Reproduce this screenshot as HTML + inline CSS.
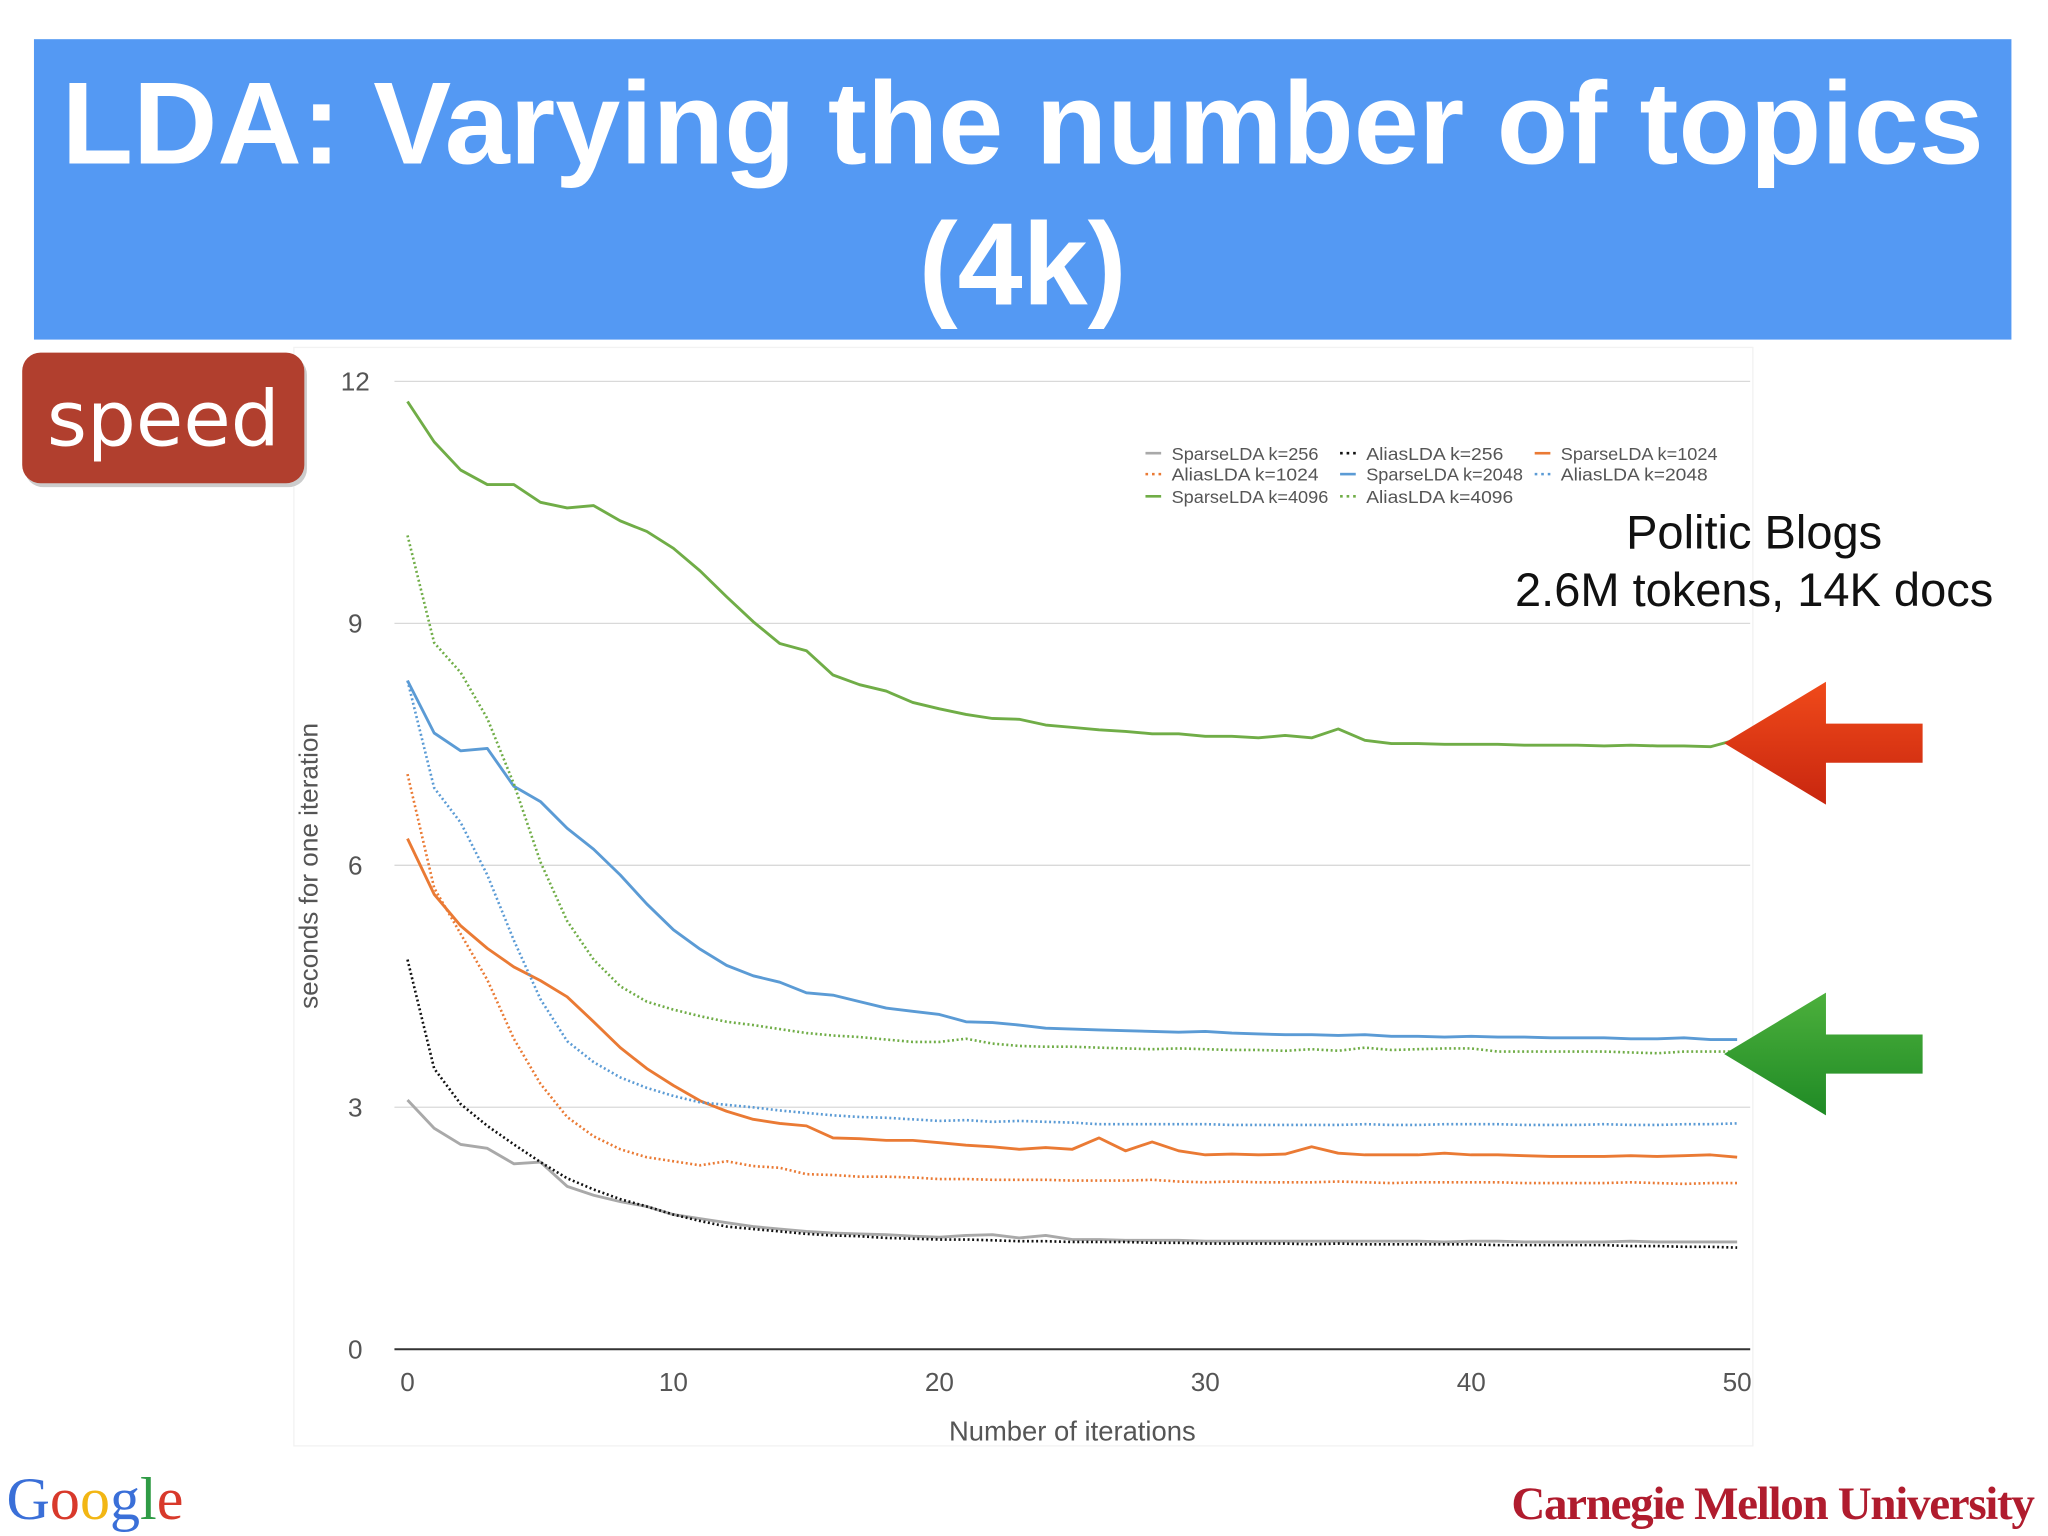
<!DOCTYPE html>
<html><head><meta charset="utf-8"><style>
html,body{margin:0;padding:0;background:#fff;}
svg{display:block;}
</style></head><body>
<svg id="slide" width="2048" height="1536" viewBox="0 0 1568 1176" xmlns="http://www.w3.org/2000/svg" font-family="Liberation Sans, sans-serif">
<rect x="225" y="266" width="1117" height="841" fill="none" stroke="#f2f2f2"/>
<rect x="26" y="30" width="1514" height="230" fill="#5499f3"/>
<text x="783" y="125" text-anchor="middle" font-size="89.5" font-weight="bold" fill="#fff">LDA: Varying the number of topics</text>
<text x="783" y="233" text-anchor="middle" font-size="89.5" font-weight="bold" fill="#fff">(4k)</text>
<rect x="19" y="273" width="216" height="100" rx="14" fill="#ccc"/>
<rect x="17" y="270" width="216" height="100" rx="14" fill="#b13f2e"/>
<text x="125" y="341" text-anchor="middle" font-size="59" fill="#fff" font-family="DejaVu Sans, sans-serif">speed</text>
<g id="grid"></g>
<g id="series"></g>
<g id="axes"></g>
<text transform="translate(243,663) rotate(-90)" text-anchor="middle" font-size="20" fill="#555">seconds for one iteration</text>
<text x="821" y="1103" text-anchor="middle" font-size="21" fill="#555">Number of iterations</text>
<g id="legend" font-size="14" fill="#555"></g>
<text x="1343" y="420" text-anchor="middle" font-size="36" fill="#111">Politic Blogs</text>
<text x="1343" y="464" text-anchor="middle" font-size="36" fill="#111">2.6M tokens, 14K docs</text>
<defs>
<linearGradient id="rg" x1="0" y1="0" x2="0" y2="1"><stop offset="0" stop-color="#f04a1a"/><stop offset="1" stop-color="#c8260f"/></linearGradient>
<linearGradient id="gg" x1="0" y1="0" x2="0" y2="1"><stop offset="0" stop-color="#4cb03c"/><stop offset="1" stop-color="#1f8a25"/></linearGradient>
</defs>
<polygon points="1320,569 1398,522 1398,554 1472,554 1472,584 1398,584 1398,616" fill="url(#rg)"/>
<polygon points="1320,807 1398,760 1398,792 1472,792 1472,822 1398,822 1398,854" fill="url(#gg)"/>
<text x="5" y="1163" font-family="Liberation Serif, serif" font-size="46"><tspan fill="#3a6fd8">G</tspan><tspan fill="#d8392b">o</tspan><tspan fill="#f2b614">o</tspan><tspan fill="#3a6fd8">g</tspan><tspan fill="#2f9b45">l</tspan><tspan fill="#d8392b">e</tspan></text>
<text x="1557" y="1163" text-anchor="end" font-family="Liberation Serif, serif" font-size="36" font-weight="bold" fill="#b01c2e" letter-spacing="-1">Carnegie Mellon University</text>
</svg>
<script>
const xTicks = [0,10,20,30,40,50];
const yTicks = [0,3,6,9,12];
const iterations = [];
for (let i = 0; i <= 50; i++) iterations.push(i);
const sparse256 = [3.09,2.74,2.54,2.49,2.3,2.32,2.02,1.91,1.83,1.77,1.67,1.62,1.57,1.52,1.49,1.46,1.44,1.43,1.42,1.4,1.39,1.41,1.42,1.38,1.41,1.36,1.36,1.35,1.35,1.35,1.34,1.34,1.34,1.34,1.34,1.34,1.34,1.34,1.34,1.33,1.34,1.34,1.33,1.33,1.33,1.33,1.34,1.33,1.33,1.33,1.33];
const alias256 = [4.83,3.48,3.04,2.77,2.54,2.32,2.12,1.98,1.86,1.77,1.67,1.59,1.52,1.49,1.46,1.43,1.41,1.4,1.38,1.37,1.36,1.36,1.35,1.34,1.34,1.33,1.33,1.33,1.32,1.32,1.31,1.31,1.31,1.31,1.3,1.31,1.3,1.3,1.3,1.3,1.3,1.29,1.29,1.29,1.29,1.29,1.28,1.28,1.27,1.27,1.26];
const sparse1024 = [6.33,5.64,5.25,4.97,4.74,4.57,4.37,4.06,3.74,3.48,3.27,3.08,2.95,2.85,2.8,2.77,2.62,2.61,2.59,2.59,2.56,2.53,2.51,2.48,2.5,2.48,2.62,2.46,2.57,2.46,2.41,2.42,2.41,2.42,2.51,2.43,2.41,2.41,2.41,2.43,2.41,2.41,2.4,2.39,2.39,2.39,2.4,2.39,2.4,2.41,2.38];
const alias1024 = [7.13,5.72,5.15,4.58,3.85,3.29,2.88,2.64,2.48,2.38,2.33,2.28,2.33,2.27,2.25,2.17,2.16,2.14,2.14,2.13,2.11,2.11,2.1,2.1,2.1,2.09,2.09,2.09,2.1,2.08,2.07,2.08,2.07,2.07,2.07,2.08,2.07,2.06,2.07,2.07,2.07,2.07,2.06,2.06,2.06,2.06,2.07,2.06,2.05,2.06,2.06];
const sparse2048 = [8.29,7.64,7.42,7.45,6.98,6.79,6.46,6.2,5.88,5.52,5.2,4.96,4.76,4.63,4.55,4.42,4.39,4.31,4.23,4.19,4.15,4.06,4.05,4.02,3.98,3.97,3.96,3.95,3.94,3.93,3.94,3.92,3.91,3.9,3.9,3.89,3.9,3.88,3.88,3.87,3.88,3.87,3.87,3.86,3.86,3.86,3.85,3.85,3.86,3.84,3.84];
const alias2048 = [8.29,6.96,6.53,5.88,5.07,4.34,3.82,3.56,3.37,3.24,3.14,3.06,3.03,3.0,2.96,2.93,2.9,2.88,2.87,2.85,2.83,2.84,2.82,2.83,2.82,2.81,2.79,2.79,2.79,2.79,2.79,2.78,2.78,2.78,2.78,2.78,2.79,2.78,2.78,2.79,2.79,2.79,2.78,2.78,2.78,2.79,2.78,2.78,2.79,2.79,2.8];
const sparse4096 = [11.75,11.25,10.9,10.72,10.72,10.5,10.43,10.46,10.27,10.14,9.93,9.65,9.33,9.02,8.75,8.66,8.36,8.24,8.16,8.02,7.94,7.87,7.82,7.81,7.74,7.71,7.68,7.66,7.63,7.63,7.6,7.6,7.58,7.61,7.58,7.69,7.55,7.51,7.51,7.5,7.5,7.5,7.49,7.49,7.49,7.48,7.49,7.48,7.48,7.47,7.56];
const alias4096 = [10.09,8.76,8.39,7.82,7.01,6.04,5.31,4.83,4.5,4.31,4.21,4.13,4.06,4.02,3.97,3.92,3.89,3.87,3.84,3.81,3.81,3.85,3.79,3.76,3.75,3.75,3.74,3.73,3.72,3.73,3.72,3.71,3.71,3.7,3.72,3.7,3.74,3.71,3.72,3.73,3.73,3.69,3.69,3.69,3.69,3.69,3.68,3.67,3.69,3.69,3.69];

const seriesList = [
  {name:'SparseLDA k=256', data:sparse256, color:'#a9a9a9', dash:null, id:'sparse-256'},
  {name:'AliasLDA k=256', data:alias256, color:'#111', dash:'1.5 2', id:'alias-256'},
  {name:'SparseLDA k=1024', data:sparse1024, color:'#ea7a34', dash:null, id:'sparse-1024'},
  {name:'AliasLDA k=1024', data:alias1024, color:'#ea7a34', dash:'1.5 2', id:'alias-1024'},
  {name:'SparseLDA k=2048', data:sparse2048, color:'#5b9bd5', dash:null, id:'sparse-2048'},
  {name:'AliasLDA k=2048', data:alias2048, color:'#5b9bd5', dash:'1.5 2', id:'alias-2048'},
  {name:'SparseLDA k=4096', data:sparse4096, color:'#70ad47', dash:null, id:'sparse-4096'},
  {name:'AliasLDA k=4096', data:alias4096, color:'#70ad47', dash:'1.5 2', id:'alias-4096'}
];
const NS='http://www.w3.org/2000/svg';
function xs(v){return 312 + v*(1330-312)/50;}
function ys(v){return 1033 - v*(1033-292)/12;}
function mk(tag, attrs, parent){const e=document.createElementNS(NS,tag);for(const k in attrs)e.setAttribute(k,attrs[k]);parent.appendChild(e);return e;}
const grid=document.getElementById('grid'), axes=document.getElementById('axes'), sg=document.getElementById('series'), lg=document.getElementById('legend');
yTicks.forEach(t=>{
  const l=mk('line',{x1:302,x2:1340,y1:ys(t),y2:ys(t),stroke:t===0?'#333':'#d9d9d9','stroke-width':t===0?1.5:1},grid);
  
  
  const tx=mk('text',{x:272,y:ys(t)+7,'text-anchor':'middle','font-size':20,fill:'#555'},axes);
  tx.textContent=t;
  
  
});
xTicks.forEach(t=>{
  const tx=mk('text',{x:xs(t),y:1065,'text-anchor':'middle','font-size':20,fill:'#555'},axes);
  tx.textContent=t;
  
  
});
seriesList.forEach(s=>{
  const d=s.data.map((v,i)=>(i?'L':'M')+xs(iterations[i]).toFixed(1)+','+ys(v).toFixed(1)).join('');
  const attrs={d:d,fill:'none',stroke:s.color,'stroke-width':s.dash?2:2.2,'stroke-linejoin':'round'};
  if(s.dash)attrs['stroke-dasharray']=s.dash;
  const p=mk('path',attrs,sg);
  
  
});
const legX=[877,1026,1175], legY=[351,367,384];
seriesList.forEach((s,i)=>{
  const cx=legX[i%3], cy=legY[Math.floor(i/3)];
  const attrs={x1:cx,x2:cx+12,y1:cy-4,y2:cy-4,stroke:s.color,'stroke-width':2};
  if(s.dash)attrs['stroke-dasharray']='2 3';
  const l=mk('line',attrs,lg);
  
  
  const t=mk('text',{x:cx+20,y:cy+1,'font-size':13.5,fill:'#555',textLength:s.name.length*7.5,lengthAdjust:'spacingAndGlyphs'},lg);
  t.textContent=s.name;
  
  
});
</script>
</body></html>
